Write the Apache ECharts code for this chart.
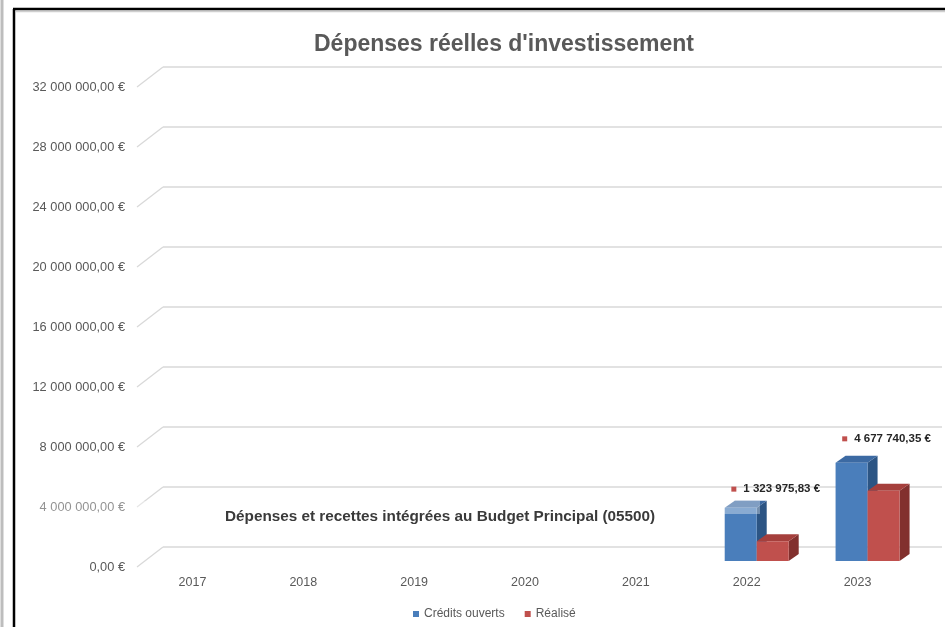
<!DOCTYPE html>
<html>
<head>
<meta charset="utf-8">
<script src="https://cdn.jsdelivr.net/npm/echarts@6/dist/echarts.min.js"></script>
<style>html,body{margin:0;padding:0;background:#fff}#c{width:945px;height:627px}</style>
</head>
<body>
<div id="c"></div>
<script>
const categories = ['2017', '2018', '2019', '2020', '2021', '2022', '2023'];
const creditsOuverts = [null, null, null, null, null, 3550000, 6550000];
const realise = [null, null, null, null, null, 1323975.83, 4677740.35];
const yTicks = [0, 4000000, 8000000, 12000000, 16000000, 20000000, 24000000, 28000000, 32000000];
const seriesNames = ['Crédits ouverts', 'Réalisé'];
const titleText = "Dépenses réelles d'investissement";
const overlayText = 'Dépenses et recettes intégrées au Budget Principal (05500)';

function fmt(n) {
  const parts = n.toFixed(2).split('.');
  const intPart = parts[0].replace(/\B(?=(\d{3})+(?!\d))/g, ' ');
  return intPart + ',' + parts[1] + ' €';
}

const chart = echarts.init(document.getElementById('c'), null, {renderer: 'canvas'});
const DX = 10, DY = 7, BW = 32;
const colors = [
  {front: '#4a7ebb', top: '#3c6aa3', side: '#2c5584'},
  {front: '#c0504d', top: '#a53f3c', side: '#82302e'}
];

function barRender(si) {
  return function (params, api) {
    const c = api.value(0), v = api.value(1);
    if (v == null || isNaN(v)) return null;
    const top = api.coord([c, v]);
    const base = api.coord([c, 0]);
    const x0 = top[0] + (si === 0 ? -BW : 0);
    const ty = top[1], by = base[1];
    const col = colors[si];
    const children = [
      {type: 'polygon', shape: {points: [[x0 + BW, ty], [x0 + BW + DX, ty - DY], [x0 + BW + DX, by - DY], [x0 + BW, by]]}, style: {fill: col.side}},
      {type: 'polygon', shape: {points: [[x0, ty], [x0 + DX, ty - DY], [x0 + BW + DX, ty - DY], [x0 + BW, ty]]}, style: {fill: col.top}},
      {type: 'rect', shape: {x: x0, y: ty, width: BW, height: by - ty}, style: {fill: col.front}}
    ];
    if (si === 1) {
      children.push({
        type: 'text',
        style: {
          x: x0 + BW / 2 + 3, y: ty - 52,
          text: '{sq|}{v|' + fmt(v) + '}',
          align: 'center', verticalAlign: 'middle',
          rich: {
            sq: {width: 5, height: 5, backgroundColor: '#c0504d'},
            v: {fontSize: 11.5, fontWeight: 'bold', fontFamily: 'Liberation Sans, Arial', fill: '#262626', color: '#262626', padding: [0, 0, 0, 7]}
          }
        }
      });
    }
    return {type: 'group', children: children};
  };
}

function toPairs(arr) {
  const out = [];
  arr.forEach((v, i) => { if (v != null) out.push([i, v]); });
  return out;
}

const yBase = {type: 'value', min: 0, max: 32000000, interval: 4000000};

const option = {
  animation: false,
  backgroundColor: '#fff',
  title: {
    text: titleText, left: 499, top: 28, textAlign: 'center',
    textStyle: {fontSize: 23, fontWeight: 'bold', color: '#595959', fontFamily: 'Liberation Sans, Arial'}
  },
  legend: {
    data: seriesNames, left: 408, top: 603, itemWidth: 6, itemHeight: 6, itemGap: 20, icon: 'rect',
    textStyle: {fontSize: 12, color: '#595959', fontFamily: 'Liberation Sans, Arial'}
  },
  grid: [
    {left: 163, top: 67, width: 779, height: 480},
    {left: 137, top: 87, width: 776, height: 480},
    {left: 147, top: 81, width: 776, height: 480}
  ],
  xAxis: [
    {gridIndex: 0, type: 'category', data: categories, show: false},
    {gridIndex: 1, type: 'category', data: categories, axisLine: {show: false}, axisTick: {show: false},
     axisLabel: {margin: 9, fontSize: 12.5, color: '#595959', fontFamily: 'Liberation Sans, Arial'}},
    {gridIndex: 2, type: 'category', data: categories, show: false}
  ],
  yAxis: [
    Object.assign({gridIndex: 0, axisLabel: {show: false}, axisLine: {show: false}, axisTick: {show: false},
      splitLine: {show: true, lineStyle: {color: '#d9d9d9', width: 1.5}}}, yBase),
    Object.assign({gridIndex: 1, axisLine: {show: false}, axisTick: {show: false}, splitLine: {show: false},
      axisLabel: {margin: 12, fontSize: 12.8, color: '#595959', fontFamily: 'Liberation Sans, Arial', formatter: v => fmt(v)}}, yBase),
    Object.assign({gridIndex: 2, show: false, splitLine: {show: false}}, yBase)
  ],
  series: [
    {
      type: 'custom', name: '_diag', xAxisIndex: 1, yAxisIndex: 1, silent: true,
      data: yTicks.map(v => [0, v]),
      renderItem: function (params, api) {
        const p = api.coord([0, api.value(1)]);
        const x = params.coordSys.x;
        return {type: 'line', shape: {x1: x, y1: p[1], x2: x + 26, y2: p[1] - 20},
                style: {stroke: '#d9d9d9', lineWidth: 1.3}};
      }
    },
    {
      type: 'custom', name: seriesNames[0], xAxisIndex: 2, yAxisIndex: 2,
      itemStyle: {color: '#4a7ebb'}, data: toPairs(creditsOuverts), renderItem: barRender(0)
    },
    {
      type: 'custom', name: seriesNames[1], xAxisIndex: 2, yAxisIndex: 2,
      itemStyle: {color: '#c0504d'}, data: toPairs(realise), renderItem: barRender(1)
    }
  ],
  graphic: [
    {type: 'rect', left: 0, top: 501, shape: {width: 760, height: 13}, z: 50,
     style: {fill: 'rgba(255,255,255,0.35)'}},
    {type: 'text', left: 225, top: 509, z: 60,
     style: {text: overlayText, font: 'bold 15.3px "Liberation Sans", Arial', fill: '#3a3a3a'}},
    {type: 'line', z: 70, shape: {x1: 2, y1: 0, x2: 2, y2: 627}, style: {stroke: '#bdbdbd', lineWidth: 3}},
    {type: 'line', z: 70, shape: {x1: 14, y1: 9, x2: 14, y2: 627}, style: {stroke: '#000', lineWidth: 2.5}},
    {type: 'line', z: 70, shape: {x1: 13, y1: 9, x2: 945, y2: 9}, style: {stroke: '#000', lineWidth: 2.5}},
    {type: 'line', z: 69, shape: {x1: 16, y1: 11.5, x2: 945, y2: 11.5}, style: {stroke: '#cfcfcf', lineWidth: 1.5}}
  ]
};
chart.setOption(option);
</script>
</body>
</html>
